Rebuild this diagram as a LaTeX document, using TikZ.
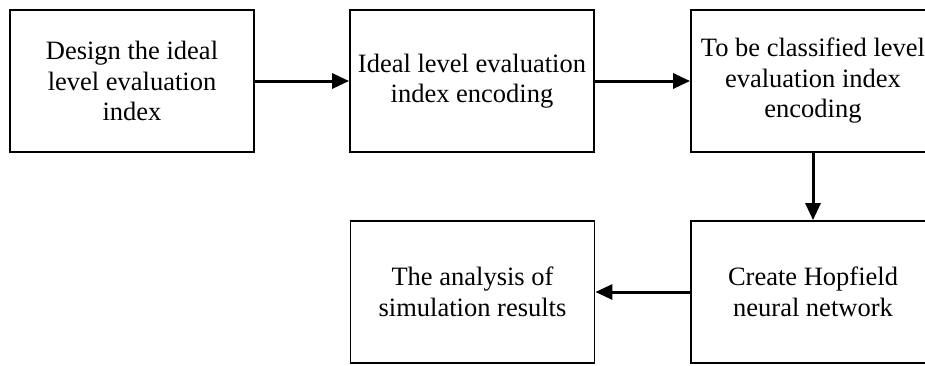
\documentclass[tikz,border=0pt]{standalone}
\usepackage{fontspec}
\setmainfont{Liberation Serif}
\usetikzlibrary{arrows.meta}
\tikzset{
  stepbox/.style={draw, line width=1.8pt, minimum width=244pt, minimum height=142pt,
    inner sep=2pt, align=center,
    font=\fontsize{26.5}{30.5}\selectfont},
  flow/.style={line width=3pt, -{Triangle[length=17pt,width=15pt]}}
}
\begin{document}
\begin{tikzpicture}[x=1pt,y=-1pt]
\useasboundingbox (0,0) rectangle (925,365);
\clip (0,0) rectangle (925,365);
\node[stepbox] (b1) at (132,81) {Design the ideal\\level evaluation\\index};
\node[stepbox] (b2) at (472,81) {Ideal level evaluation\\index encoding};
\node[stepbox] (b3) at (813,81) {To be classified level\\evaluation index\\encoding};
\node[stepbox] (b4) at (472.5,292) {The analysis of\\simulation results};
\node[stepbox] (b5) at (813,292) {Create Hopfield\\neural network};
\draw[flow] (b1) -- (b2);
\draw[flow] (b2) -- (b3);
\draw[flow] (b3) -- (b5);
\draw[flow] (b5) -- (b4);
\end{tikzpicture}
\end{document}
